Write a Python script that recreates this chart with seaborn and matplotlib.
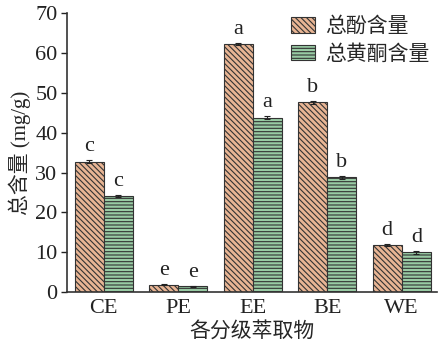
import matplotlib
matplotlib.use("Agg")
import matplotlib.pyplot as plt
import seaborn as sns
import pandas as pd
import numpy as np

fractions = ["CE", "PE", "EE", "BE", "WE"]
phenol = [32.7, 1.9, 62.3, 47.6, 11.9]
phenol_err = [0.35, 0.2, 0.3, 0.4, 0.25]
phenol_sig = ["c", "e", "a", "b", "d"]
flavonoid = [24.1, 1.5, 43.8, 28.8, 10.0]
flavonoid_err = [0.3, 0.15, 0.3, 0.35, 0.3]
flavonoid_sig = ["c", "e", "a", "b", "d"]
series = ["总酚含量", "总黄酮含量"]

df = pd.DataFrame({
    "fraction": fractions * 2,
    "value": phenol + flavonoid,
    "series": [series[0]] * 5 + [series[1]] * 5,
})

sns.set_style("ticks")
plt.rcParams["font.family"] = ["Liberation Serif", "Noto Sans CJK SC"]
plt.rcParams["hatch.linewidth"] = 0.8
plt.rcParams["axes.linewidth"] = 1.2

fig = plt.figure(figsize=(4.39, 3.47), dpi=100)
ax = fig.add_axes([0.153, 0.158, 0.842, 0.804])

colors = ["#F6B286", "#8FD3A0"]
hatches = ["\\\\\\\\\\\\", "-----"]
sns.barplot(data=df, x="fraction", y="value", hue="series", palette=colors,
            width=0.78, errorbar=None, edgecolor="#333333", linewidth=0.8,
            ax=ax, legend=True)

for cont, h in zip(ax.containers, hatches):
    for p in cont:
        p.set_hatch(h)

# error bars and significance letters
for cont, vals, errs, sigs in zip(ax.containers, [phenol, flavonoid],
                                  [phenol_err, flavonoid_err],
                                  [phenol_sig, flavonoid_sig]):
    xs = [p.get_x() + p.get_width() / 2 for p in cont]
    ax.errorbar(xs, vals, yerr=errs, fmt="none", ecolor="#222222",
                elinewidth=0.8, capsize=2, capthick=0.8)
    for x, v, e, s in zip(xs, vals, errs, sigs):
        ax.text(x, v + e + 1.0, s, ha="center", va="bottom", fontsize=16,
                color="#222222")

ax.set_ylim(0, 70)
ax.set_xlim(-0.49, 4.47)
ax.set_yticks(range(0, 71, 10))
ax.tick_params(axis="both", labelsize=16, colors="#222222", length=4, width=1.0)
ax.tick_params(axis="x", length=0, pad=5)
ax.tick_params(axis="y", pad=3)
for s in ["top", "right"]:
    ax.spines[s].set_visible(False)
ax.spines["left"].set_color("#333333")
ax.spines["bottom"].set_color("#333333")

ax.set_xlabel("各分级萃取物", fontsize=15, labelpad=1,
              family=["Noto Sans CJK SC"])
ax.set_ylabel("总含量 (mg/g)", fontsize=15, labelpad=3,
              family=["Liberation Serif", "Noto Sans CJK SC"])

leg = ax.legend(loc="upper right", bbox_to_anchor=(1.03, 1.06), frameon=False,
                prop={"family": "Noto Sans CJK SC", "size": 15},
                handlelength=1.15, handleheight=0.75, handletextpad=0.45,
                labelspacing=0.25)
for hp, h in zip(leg.get_patches(), hatches):
    hp.set_hatch(h)

fig.savefig("out.png", dpi=100)
